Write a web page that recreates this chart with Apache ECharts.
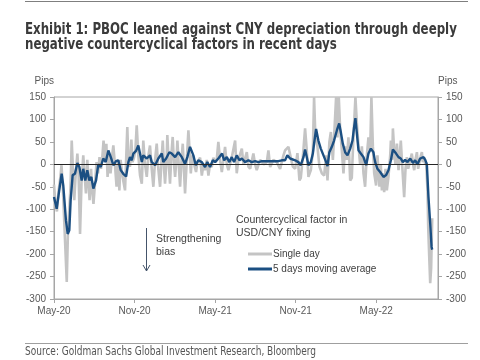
<!DOCTYPE html>
<html>
<head>
<meta charset="utf-8">
<script src="https://cdn.jsdelivr.net/npm/echarts@6/dist/echarts.min.js"></script>
<style>
  html, body { margin: 0; padding: 0; background: #ffffff; }
  #chart { width: 480px; height: 360px; }
</style>
</head>
<body>
<div id="chart"></div>
<script>
// x values: months elapsed since the start of May 2020
const xTickLabels = ['May-20', 'Nov-20', 'May-21', 'Nov-21', 'May-22'];

// Single day countercyclical factor (pips)
const dayMonths = [0.00,0.11,0.22,0.34,0.45,0.56,0.67,0.78,0.95,1.04,1.14,1.23,1.32,1.42,1.51,1.60,1.74,1.83,1.94,2.05,2.18,2.27,2.38,2.48,2.57,2.65,2.76,2.85,2.94,3.06,3.17,3.28,3.39,3.50,3.60,3.69,3.80,3.90,3.99,4.10,4.21,4.32,4.42,4.55,4.66,4.77,4.87,4.96,5.07,5.18,5.29,5.46,5.55,5.66,5.76,5.85,5.96,6.06,6.16,6.28,6.41,6.54,6.65,6.78,6.91,7.03,7.15,7.28,7.40,7.53,7.65,7.77,7.90,8.03,8.10,8.20,8.27,8.40,8.44,8.55,8.64,8.74,8.84,8.94,9.02,9.14,9.19,9.29,9.39,9.52,9.59,9.69,9.76,9.89,10.01,10.08,10.19,10.28,10.38,10.48,10.58,10.68,10.75,10.88,11.01,11.13,11.25,11.38,11.50,11.62,11.75,11.87,12.00,12.12,12.24,12.37,12.50,12.62,12.74,12.87,12.99,13.24,13.49,13.61,13.73,13.99,14.11,14.36,14.48,14.61,14.85,14.98,15.10,15.35,15.60,15.85,15.97,16.10,16.34,16.59,16.84,17.09,17.21,17.46,17.71,17.79,17.96,18.13,18.28,18.38,18.53,18.70,18.83,18.95,19.13,19.28,19.37,19.47,19.62,19.77,19.95,20.12,20.27,20.37,20.51,20.62,20.77,20.86,21.01,21.11,21.21,21.31,21.44,21.56,21.68,21.81,21.93,22.06,22.18,22.30,22.45,22.56,22.68,22.80,22.93,23.05,23.17,23.30,23.42,23.55,23.64,23.75,23.85,23.99,24.09,24.24,24.34,24.42,24.54,24.59,24.69,24.79,24.91,25.04,25.09,25.19,25.24,25.34,25.43,25.54,25.66,25.83,25.93,26.08,26.18,26.28,26.38,26.47,26.58,26.65,26.77,26.83,26.92,27.03,27.12,27.22,27.33,27.40,27.47,27.57,27.65,27.72,27.82,27.87,27.94,28.02,28.09,28.17];
const dayPips = [-45,-90,-105,-60,-35,-2,-60,-140,-262,-150,-100,-50,53,-20,-80,-30,24,-20,-155,-40,20,-20,-65,10,-40,-80,-10,-60,-88,-40,5,-20,16,-10,16,53,10,46,-28,20,-20,16,42,-5,-50,10,-58,10,-20,-40,-58,83,0,-5,55,5,15,30,87,20,-25,-43,53,0,-28,20,42,-10,-50,10,46,-10,-50,20,53,-10,-43,20,65,0,-43,20,61,0,-28,20,53,0,-50,20,46,-20,-65,10,76,40,-20,20,16,-5,-17,5,5,15,-25,0,-13,10,-25,0,-6,15,5,10,50,10,-17,10,39,0,-13,15,53,-20,10,35,0,27,-5,-10,24,0,-13,10,0,5,31,-6,10,5,-10,20,31,39,5,-5,-10,25,-36,-30,15,80,30,-28,-13,30,150,60,40,-5,-20,-25,20,-36,50,72,10,60,150,60,150,80,30,-20,40,10,60,-36,-30,60,150,90,40,0,40,-20,-50,20,60,30,150,40,-20,-47,20,-50,0,-58,-20,-62,-10,-58,-28,20,53,10,80,30,0,46,-13,53,0,-73,-10,16,-10,-13,15,24,-5,-13,10,27,-10,-6,20,27,5,16,0,5,-60,-140,-200,-265,-230,-120];

// 5 days moving average (pips)
const maMonths = [0.00,0.20,0.39,0.57,0.69,0.89,1.02,1.14,1.24,1.39,1.56,1.74,1.89,2.06,2.18,2.33,2.48,2.63,2.78,2.93,3.13,3.30,3.48,3.67,3.85,4.05,4.23,4.42,4.62,4.79,4.97,5.16,5.37,5.54,5.66,5.79,5.91,6.11,6.28,6.54,6.65,6.91,7.03,7.15,7.28,7.53,7.77,8.03,8.14,8.35,8.59,8.77,9.02,9.26,9.52,9.76,9.93,10.13,10.38,10.56,10.75,11.01,11.25,11.42,11.62,11.83,12.00,12.24,12.37,12.52,12.67,12.87,13.06,13.24,13.41,13.61,13.81,13.99,14.23,14.48,14.73,14.98,15.22,15.48,15.72,15.97,16.22,16.47,16.71,16.97,17.21,17.38,17.59,17.96,18.20,18.38,18.58,18.70,18.83,18.95,19.13,19.28,19.37,19.52,19.69,19.87,20.07,20.27,20.37,20.51,20.69,20.86,21.07,21.24,21.36,21.51,21.68,21.86,22.06,22.23,22.35,22.45,22.56,22.68,22.85,23.05,23.25,23.42,23.60,23.79,23.92,24.09,24.29,24.54,24.74,24.91,25.09,25.24,25.34,25.48,25.66,25.83,25.98,26.15,26.33,26.53,26.73,26.90,27.07,27.27,27.40,27.52,27.65,27.77,27.89,28.02,28.12,28.17];
const maPips = [-73,-99,-58,-21,-47,-125,-155,-147,-80,-24,-21,3,-6,-36,-10,-36,-13,-36,-28,-54,-36,0,-6,13,5,31,16,-2,7,9,-13,-21,-27,5,16,9,24,30,42,5,20,13,9,20,5,-2,13,24,5,13,27,24,16,27,16,1,16,39,20,-2,9,5,-6,5,-6,9,5,13,16,24,9,16,5,16,5,20,9,13,5,9,5,7,5,7,7,7,7,7,7,9,9,20,13,9,5,-2,16,33,16,-2,5,24,46,79,53,35,20,5,-4,27,39,53,76,91,72,46,27,20,35,53,83,103,68,31,24,16,-2,24,35,27,5,-10,-17,-28,-24,-13,9,33,35,24,16,13,5,10,5,13,3,9,0,13,9,16,10,0,-73,-132,-184,-190];

const dayData = dayMonths.map((m, i) => [m, dayPips[i]]);
const maData = maMonths.map((m, i) => [m, maPips[i]]);

const chart = echarts.init(document.getElementById('chart'), null, { renderer: 'canvas' });

const axisColor = '#a6a6a6';
const labelColor = '#595959';
const sansFont = "'Liberation Sans', Arial, sans-serif";
const condFont = "'DejaVu Sans Condensed', 'Liberation Sans Narrow', sans-serif";

function yAxisCfg(pos) {
  return {
    type: 'value',
    position: pos,
    min: -300, max: 150, interval: 50,
    name: 'Pips',
    nameLocation: 'end',
    nameGap: 11,
    nameTextStyle: { color: labelColor, fontSize: 10, fontFamily: sansFont, align: pos === 'left' ? 'right' : 'left' },
    axisLine: { show: true, lineStyle: { color: axisColor, width: 1 } },
    axisTick: { show: true, inside: false, length: 4, lineStyle: { color: axisColor } },
    axisLabel: { color: labelColor, fontSize: 10, fontFamily: sansFont, margin: 8 },
    splitLine: { show: false }
  };
}

const option = {
  animation: false,
  backgroundColor: '#ffffff',
  grid: { left: 54, right: 42, top: 97, bottom: 61, show: true, borderColor: axisColor, borderWidth: 1, containLabel: false },
  legend: {
    data: ['Single day', '5 days moving average'],
    orient: 'vertical',
    left: 248, top: 249,
    icon: 'rect', itemWidth: 24, itemHeight: 3, itemGap: 5,
    padding: 0,
    textStyle: { fontFamily: sansFont, fontSize: 10, color: '#404040', padding: [0, 0, 0, -4] }
  },
  xAxis: {
    type: 'value',
    min: 0, max: 28.6, interval: 6,
    axisLine: { show: true, onZero: false, lineStyle: { color: axisColor } },
    axisTick: { show: true, length: 4, lineStyle: { color: axisColor } },
    axisLabel: {
      color: labelColor, fontSize: 10, fontFamily: sansFont, margin: 7,
      showMaxLabel: false,
      formatter: v => (Math.abs(v / 6 - Math.round(v / 6)) < 1e-6 ? (xTickLabels[Math.round(v / 6)] || '') : '')
    },
    splitLine: { show: false }
  },
  yAxis: [yAxisCfg('left'), yAxisCfg('right')],
  series: [
    {
      name: 'zero', type: 'line', data: [], z: 1, silent: true,
      markLine: {
        silent: true, symbol: 'none', label: { show: false },
        lineStyle: { color: '#262626', width: 1, type: 'solid' },
        data: [{ yAxis: 0 }]
      }
    },
    {
      name: 'Single day', type: 'line', data: dayData, z: 2,
      showSymbol: false, symbol: 'none',
      color: '#c4c4c4',
      lineStyle: { color: '#c4c4c4', width: 2.6 }
    },
    {
      name: '5 days moving average', type: 'line', data: maData, z: 3,
      showSymbol: false, symbol: 'none',
      color: '#1b4f82',
      lineStyle: { color: '#1b4f82', width: 2.4 }
    }
  ],
  graphic: [
    { type: 'line', shape: { x1: 25, y1: 1.5, x2: 468, y2: 1.5 }, style: { stroke: '#7f7f7f', lineWidth: 1 } },
    {
      type: 'text', x: 25, y: 23, scaleX: 0.875,
      style: {
        text: 'Exhibit 1: PBOC leaned against CNY depreciation through deeply\nnegative countercyclical factors in recent days',
        font: "bold 15px " + condFont, fill: '#3b3b3b', lineHeight: 14.5, verticalAlign: 'top'
      }
    },
    { type: 'line', shape: { x1: 25, y1: 343.5, x2: 468, y2: 343.5 }, style: { stroke: '#9f9f9f', lineWidth: 1 } },
    {
      type: 'text', x: 25, y: 346, scaleX: 0.87,
      style: { text: 'Source: Goldman Sachs Global Investment Research, Bloomberg', font: "11.5px " + condFont, fill: '#555555', verticalAlign: 'top' }
    },
    { type: 'text', left: 156, top: 233, style: { text: 'Strengthening\nbias', font: "10.5px 'Liberation Sans', Arial, sans-serif", fill: '#404040', lineHeight: 13 } },
    { type: 'text', left: 236, top: 214, style: { text: 'Countercyclical factor in\nUSD/CNY fixing', font: "10.5px 'Liberation Sans', Arial, sans-serif", fill: '#404040', lineHeight: 12.5 } },
    { type: 'line', shape: { x1: 146.5, y1: 228, x2: 146.5, y2: 271 }, style: { stroke: '#44546a', lineWidth: 1 } },
    { type: 'polyline', shape: { points: [[143, 265], [146.5, 271], [150, 265]] }, style: { stroke: '#44546a', lineWidth: 1, fill: null } }
  ]
};

chart.setOption(option);
</script>
</body>
</html>
